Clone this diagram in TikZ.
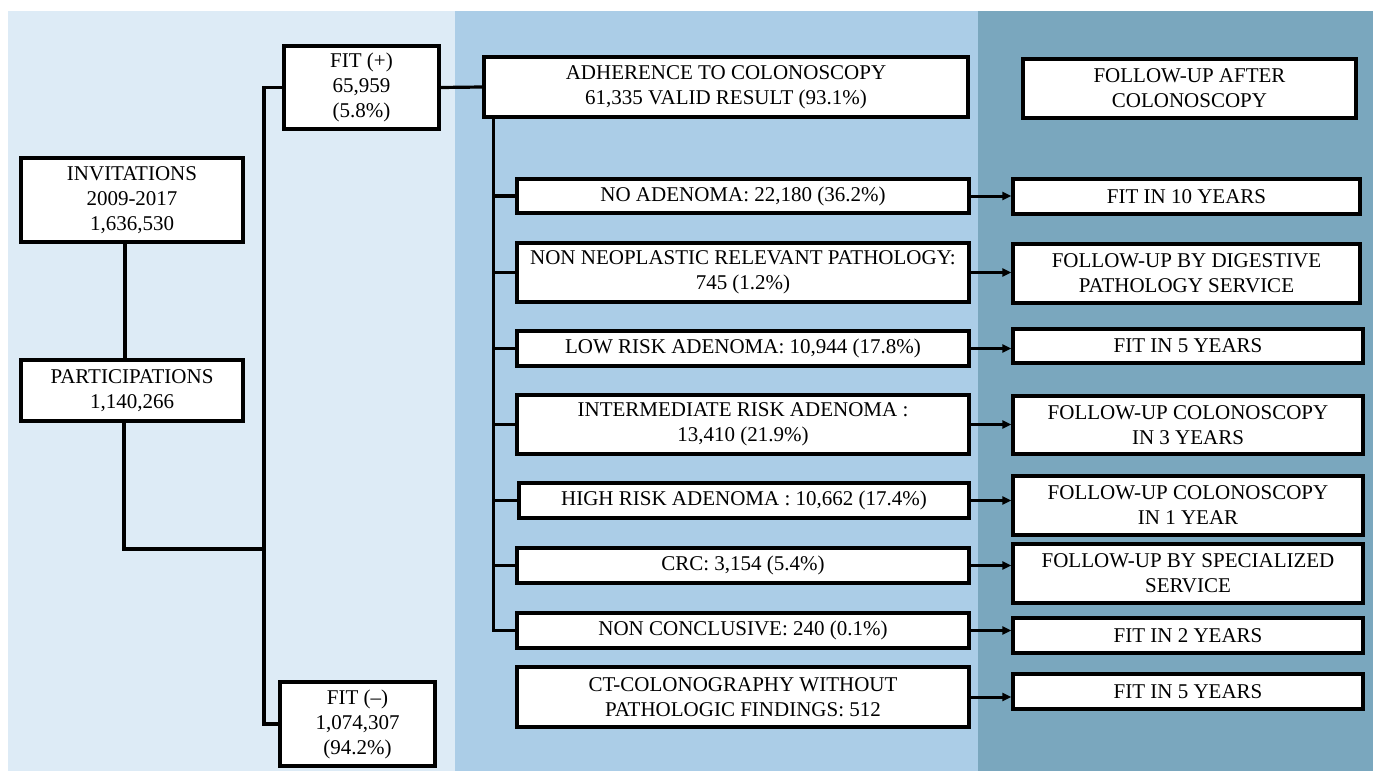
\documentclass[tikz,border=0pt]{standalone}
\usepackage{fontspec}
\setmainfont{Liberation Serif}
\usetikzlibrary{arrows.meta}
\definecolor{panelA}{HTML}{DDEBF6}
\definecolor{panelB}{HTML}{ABCDE7}
\definecolor{panelC}{HTML}{7AA7BE}
\tikzset{
  box/.style={draw=black, fill=white, line width=3.2pt, align=center, inner sep=0pt,
    font=\fontsize{21}{25}\selectfont},
  link/.style={line width=3.2pt, line cap=rect},
  arr/.style={line width=3pt, -{Triangle[length=9pt,width=8pt]}},
}
\begin{document}
\begin{tikzpicture}[x=1pt,y=-1pt]
\useasboundingbox (0,0) rectangle (1378,771);
\fill[white] (0,0) rectangle (1378,771);
\fill[panelA] (8,11) rectangle (455,771);
\fill[panelB] (455,11) rectangle (978,771);
\fill[panelC] (978,11) rectangle (1373,771);

% left column
\node[box, minimum width=222pt, minimum height=84pt] (inv) at (132,200) {INVITATIONS\\2009-2017\\1,636,530};
\node[box, minimum width=222pt, minimum height=61pt] (part) at (132,390.5) {PARTICIPATIONS\\1,140,266};
\node[box, minimum width=155pt, minimum height=83pt] (fitp) at (361.5,87.5) {FIT (+)\\65,959\\(5.8\%)};
\node[box, minimum width=155pt, minimum height=84pt] (fitn) at (357.5,724) {FIT (–)\\1,074,307\\(94.2\%)};

% middle column
\node[box, minimum width=484pt, minimum height=60pt] (adh) at (726,87) {ADHERENCE TO COLONOSCOPY\\61,335 VALID RESULT (93.1\%)};
\node[box, minimum width=452pt, minimum height=34pt] (noad) at (743,196) {NO ADENOMA: 22,180 (36.2\%)};
\node[box, minimum width=452pt, minimum height=59pt] (nonneo) at (743,272.5) {NON NEOPLASTIC RELEVANT PATHOLOGY:\\745 (1.2\%)};
\node[box, minimum width=452pt, minimum height=35pt] (low) at (743,348.5) {LOW RISK ADENOMA: 10,944 (17.8\%)};
\node[box, minimum width=452pt, minimum height=59pt] (inter) at (743,424.5) {INTERMEDIATE RISK ADENOMA :\\13,410 (21.9\%)};
\node[box, minimum width=450pt, minimum height=35pt] (high) at (744,500.5) {HIGH RISK ADENOMA : 10,662 (17.4\%)};
\node[box, minimum width=452pt, minimum height=35pt] (crc) at (743,565.5) {CRC: 3,154 (5.4\%)};
\node[box, minimum width=452pt, minimum height=35pt] (noncon) at (743,630.5) {NON CONCLUSIVE: 240 (0.1\%)};
\node[box, minimum width=452pt, minimum height=60pt] (ct) at (743,697) {CT-COLONOGRAPHY WITHOUT\\PATHOLOGIC FINDINGS: 512};

% right column
\node[box, minimum width=333pt, minimum height=59pt] (fuh) at (1189.5,88.5) {FOLLOW-UP AFTER\\COLONOSCOPY};
\node[box, minimum width=347pt, minimum height=35pt] (f10) at (1186.5,196.5) {FIT IN 10 YEARS};
\node[box, minimum width=347pt, minimum height=59pt] (fdig) at (1186.5,273.5) {FOLLOW-UP BY DIGESTIVE\\PATHOLOGY SERVICE};
\node[box, minimum width=350pt, minimum height=34pt] (f5a) at (1188,346) {FIT IN 5 YEARS};
\node[box, minimum width=350pt, minimum height=58pt] (f3) at (1188,425) {FOLLOW-UP COLONOSCOPY\\IN 3 YEARS};
\node[box, minimum width=350pt, minimum height=59pt] (f1) at (1188,505.5) {FOLLOW-UP COLONOSCOPY\\IN 1 YEAR};
\node[box, minimum width=350pt, minimum height=59pt] (fspec) at (1188,573.5) {FOLLOW-UP BY SPECIALIZED\\SERVICE};
\node[box, minimum width=350pt, minimum height=35pt] (f2) at (1188,635.5) {FIT IN 2 YEARS};
\node[box, minimum width=350pt, minimum height=35pt] (f5b) at (1188,691.5) {FIT IN 5 YEARS};

% connectors left
\draw[link] ([xshift=-7pt]inv.south) -- ([xshift=-7pt]part.north);
\coordinate (tk) at (264,549);
\draw[link] (fitp.west) -| (tk) |- (fitn.west);
\draw[link] ([xshift=-8pt]part.south) |- (tk);
\draw[link] (fitp.east) -- (adh.west);

% trunk middle
\path (adh.south west) ++(11,0) coordinate (t2);
\draw[link] (t2) |- (noncon.west);
\foreach \n in {noad,nonneo,low,inter,high,crc}{
  \draw[link] (t2 |- \n.west) -- (\n.west);
}

% arrows
\draw[arr] (noad.east) -- (noad.east -| f10.west);
\draw[arr] (nonneo.east) -- (nonneo.east -| fdig.west);
\draw[arr] (low.east) -- (low.east -| f5a.west);
\draw[arr] (inter.east) -- (inter.east -| f3.west);
\draw[arr] (high.east) -- (high.east -| f1.west);
\draw[arr] (crc.east) -- (crc.east -| fspec.west);
\draw[arr] (noncon.east) -- (noncon.east -| f2.west);
\draw[arr] (ct.east) -- (ct.east -| f5b.west);
\end{tikzpicture}
\end{document}
